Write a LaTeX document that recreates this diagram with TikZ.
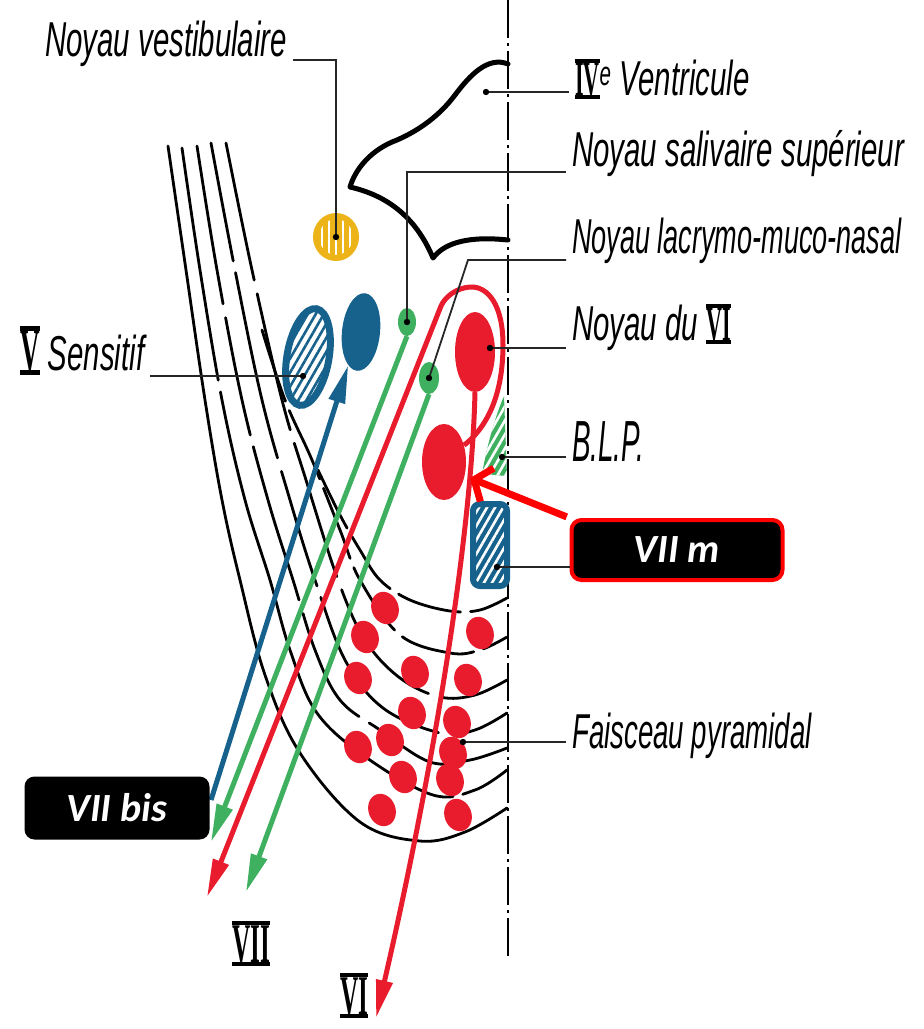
\documentclass[tikz,border=0pt]{standalone}
\usepackage{fontspec}
\usetikzlibrary{shapes.geometric, arrows.meta, patterns.meta}
\newfontfamily\lblfont{Liberation Sans}[FakeStretch=0.6]
\newfontfamily\romanfont{Liberation Serif}[FakeStretch=0.45]
\newfontfamily\boxfont{Carlito}

% Roman numeral with a bar above and below
\newcommand\rbar[1]{{\romanfont\bfseries\upshape\setbox0=\hbox{#1}\leavevmode\rlap{\rule[-0.08em]{\wd0}{0.08em}}\rlap{\rule[\ht0]{\wd0}{0.08em}}\box0}}

\definecolor{nred}{RGB}{232,28,45}
\definecolor{ngreen}{RGB}{62,176,96}
\definecolor{nblue}{RGB}{22,98,140}
\definecolor{nyellow}{RGB}{236,180,25}

\tikzset{
  leader/.style={line width=1.8pt, draw=black!85},
  arcline/.style={line width=2.8pt, line cap=round},
  fibre/.style={line width=5pt},
  tipA/.style={-{Triangle[length=38pt,width=16pt]}},
  lbl/.style={font=\lblfont\itshape\fontsize{49}{55}\selectfont, inner xsep=6pt, inner ysep=0pt, anchor=base west},
  romanlbl/.style={font=\fontsize{56}{62}\selectfont, inner sep=0pt, anchor=base west},
  nuc/.style={ellipse, inner sep=0pt},
  pdot/.style={ellipse, fill=nred, inner sep=0pt, minimum width=27pt, minimum height=33pt, rotate=20},
  hatch/.style={pattern={Lines[angle=60,distance=7pt,line width=2.6pt]}, pattern color=#1},
  blackbox/.style={rectangle, rounded corners=10pt, fill=black, text=white, inner sep=0pt,
    font=\boxfont\bfseries\itshape\fontsize{40}{44}\selectfont},
  dotmark/.style={fill=black}
}

\begin{document}
\begin{tikzpicture}[x=1pt, y=-1pt]
\useasboundingbox (0,0) rectangle (924,1029);
\fill[white] (0,0) rectangle (924,1029);

% median line
\coordinate (mtop) at (508,0);
\coordinate (mbot) at (508,958);
\draw[line width=2.5pt, dash pattern=on 38pt off 5pt on 3pt off 5pt] (mtop) -- (mbot);

% floor of the fourth ventricle
\draw[line width=5pt, line join=round, line cap=round]
  (508,64) .. controls (488,56) and (470,75) .. (455,95)
  .. controls (440,115) and (420,130) .. (397,140)
  .. controls (370,150) and (355,170) .. (350,187)
  .. controls (385,195) and (415,215) .. (433,258)
  .. controls (445,242) and (470,236) .. (508,240);

% fibre bundles sweeping towards the midline
\draw[arcline] plot[smooth, tension=0.6] coordinates {(168,146) (186,270) (205,400) (222,500) (240,580) (265,675) (300,753) (360,822) (420,841) (465,832) (507,808)};
\draw[arcline, dash pattern=on 235pt off 12pt on 500pt off 10pt] plot[smooth, tension=0.6] coordinates {(182,148) (200,270) (222,400) (245,500) (270,580) (290,650) (317,713) (367,758) (433,795) (475,790) (507,770)};
\draw[arcline, dash pattern=on 160pt off 14pt on 120pt off 12pt] plot[smooth, tension=0.6] coordinates {(197,146) (217,270) (242,400) (268,500) (293,580) (315,650) (340,700) (380,730) (430,762) (470,760) (507,748)};
\draw[arcline, dash pattern=on 120pt off 12pt on 190pt off 14pt] plot[smooth, tension=0.6] coordinates {(211,143) (235,270) (262,400) (290,500) (315,580) (345,660) (383,708) (440,733) (475,730) (507,713)};
\draw[arcline, dash pattern=on 140pt off 14pt] plot[smooth, tension=0.6] coordinates {(226,143) (252,270) (282,400) (306,480) (338,580) (365,640) (400,678) (440,697) (475,695) (507,680)};
\draw[arcline, dash pattern=on 75pt off 10pt] plot[smooth, tension=0.6] coordinates {(262,330) (285,400) (312,460) (340,530) (360,580) (400,635) (450,653) (480,650) (507,637)};
\draw[arcline, dash pattern=on 65pt off 10pt] plot[smooth, tension=0.6] coordinates {(318,470) (340,515) (360,550) (380,580) (410,600) (450,611) (480,610) (507,598)};

% pyramidal tract
\foreach \px/\py [count=\i] in {385/608, 480/633, 365/637, 415/672, 468/680, 358/678, 412/713, 457/722, 390/740, 358/747, 453/753, 403/777, 450/780, 382/810, 458/815}
  \node[pdot] (p\i) at (\px,\py) {};

% nuclei
\node[nuc, draw=nyellow, line width=6pt, preaction={fill=nyellow},
      pattern={Lines[angle=90,distance=7pt,line width=2.6pt]}, pattern color=white,
      minimum width=40pt, minimum height=42pt] (vest) at (336,237) {};
\node[nuc, draw=nblue, line width=7pt, preaction={fill=white}, hatch=nblue,
      minimum width=42pt, minimum height=98pt, rotate=-10] (vsens) at (308,357) {};
\node[nuc, fill=nblue, minimum width=38pt, minimum height=78pt, rotate=-6] (bsol) at (361,332) {};
\node[nuc, fill=ngreen, minimum width=18pt, minimum height=28pt] (sal) at (407,322) {};
\node[nuc, fill=ngreen, minimum width=20pt, minimum height=32pt] (lac) at (429,378) {};
\node[nuc, fill=nred, minimum width=40pt, minimum height=80pt] (nVI) at (475,352) {};
\node[nuc, fill=nred, minimum width=44pt, minimum height=76pt] (nVIIm) at (444,462) {};
\node[rectangle, rounded corners=7pt, draw=nblue, line width=6pt, preaction={fill=nblue},
      hatch=white, minimum width=34pt, minimum height=82pt, inner sep=0pt] (brect) at (490,545) {};
% B.L.P.
\fill[ngreen, postaction={hatch=white}] (504,396) -- (507,476) -- (482,474) .. controls (488,440) and (497,412) .. cycle;

% arrow ends of the fibres
\coordinate (tG1) at (211,842);
\coordinate (tR7) at (207,897);
\coordinate (tG2) at (246,892);
\coordinate (tR6) at (376,1018);
\coordinate (bB) at (211,800);

\draw[fibre, draw=ngreen, tipA] (sal.south) -- (tG1);
\draw[fibre, draw=ngreen, tipA] (lac.south) -- (tG2);
\draw[fibre, draw=nblue, tipA] (bB) -- (bsol.255);
\draw[fibre, draw=nred, tipA] (nVIIm.40) .. controls (490,425) and (503,390) .. (503,345)
  .. controls (503,305) and (488,286) .. (470,287)
  .. controls (456,288) and (445,297) .. (441,306) -- (tR7);
\draw[fibre, draw=nred, tipA] (nVI.south) .. controls (472,520) and (440,740) .. (tR6);

% labels
\node[lbl] (lvest) at (39,56) {Noyau vestibulaire};
\node[lbl] (lV4) at (569,95) {\rbar{IV}\textsuperscript{e}\,Ventricule};
\node[lbl] (lsal) at (566,166) {Noyau salivaire supérieur};
\node[lbl] (llac) at (566,253) {\scalebox{0.92}[1]{Noyau lacrymo-muco-nasal}};
\node[lbl] (lVI) at (566,340) {Noyau du \rbar{VI}};
\node[lbl, font=\lblfont\itshape\fontsize{58}{62}\selectfont] (lBLP) at (566,461) {\scalebox{0.8}[1]{B.L.P.}};
\node[lbl] (lpyr) at (566,748) {\scalebox{0.94}[1]{Faisceau pyramidal}};
\node[lbl] (lVs) at (14,370) {{\fontsize{60}{64}\selectfont\rbar{V}}\,Sensitif};
\node[romanlbl] (lVII) at (232,962) {\rbar{VII}};
\node[romanlbl] (lVIb) at (340,1014) {\rbar{VI}};

% leader points
\coordinate (dV4) at (486,92);
\coordinate (kSal) at (407,172);
\coordinate (kLac) at (468,260);
\coordinate (dVI) at (490,348);
\coordinate (dBLP) at (502,457);
\coordinate (dRect) at (497,567);
\coordinate (dPyr) at (463,742);
\coordinate (dVs) at (303,376);

% callout boxes
\node[blackbox, draw=red, line width=4pt, minimum width=211pt, minimum height=60pt] (boxm) at (677,550) {VII m};
\node[blackbox, minimum width=185pt, minimum height=63pt] (boxbis) at (117,808) {VII bis};
\coordinate (tm) at (470,478);
\draw[line width=7pt, draw=red, -{Straight Barb[length=14pt,width=36pt]}, shorten <=3pt] (boxm.north west) -- (tm);

% leaders
\draw[leader] ([yshift=-4pt]lvest.base east) -| (vest.center);
\draw[leader] (dV4) -- (dV4 -| lV4.west);
\draw[leader] (sal.center) -- (kSal) -- (kSal -| lsal.west);
\draw[leader] (lac.center) -- (kLac) -- (kLac -| llac.west);
\draw[leader] (dVI) -- (dVI -| lVI.west);
\draw[leader] (dBLP) -- (dBLP -| lBLP.west);
\draw[leader] (dRect) -- (dRect -| boxm.west);
\draw[leader] (dPyr) -- (dPyr -| lpyr.west);
\draw[leader] (dVs -| lVs.east) -- (dVs);
\foreach \d in {vest.center, sal.center, lac.center, dV4, dVI, dBLP, dRect, dPyr, dVs}
  \fill[dotmark] (\d) circle (3.2);
\end{tikzpicture}
\end{document}
